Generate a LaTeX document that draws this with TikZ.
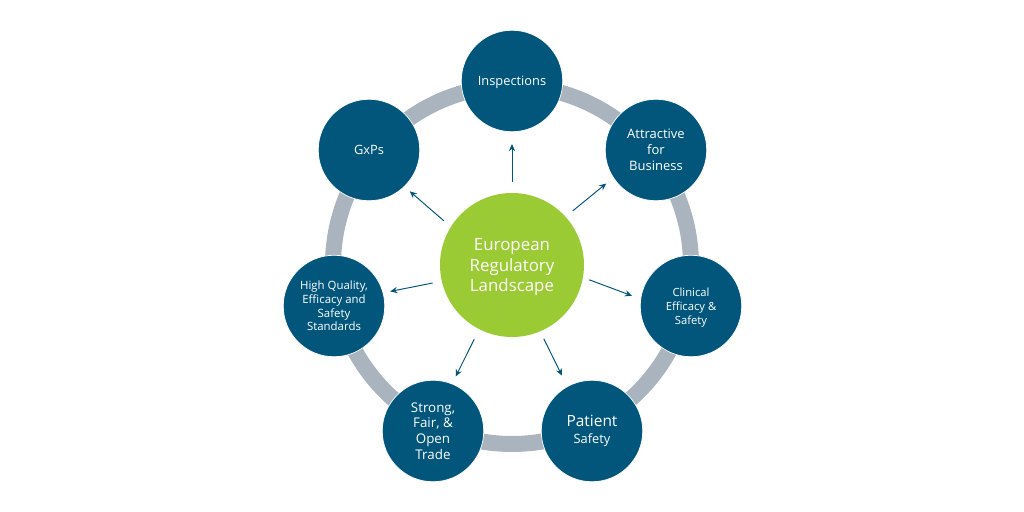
\documentclass[tikz,border=0pt]{standalone}
\usepackage{fontspec}
\setmainfont{Open Sans}
\definecolor{sitedark}{RGB}{2, 86, 124}
\definecolor{hubgreen}{RGB}{155, 203, 52}
\definecolor{ringgrey}{RGB}{170, 180, 191}
\usetikzlibrary{arrows.meta}
\tikzset{
  pillar/.style={circle, fill=sitedark, draw=white, line width=0.4pt, minimum size=2.03cm, inner sep=0pt, align=center, text=white},
  hub/.style={circle, fill=hubgreen, minimum size=2.88cm, inner sep=0pt, align=center, text=white},
  flow/.style={draw=sitedark, line width=0.55pt, -{Stealth[length=4pt, width=3.6pt]}}
}
\begin{document}
\begin{tikzpicture}
  \useasboundingbox (0, 0) rectangle (20.48, 10.24);

  \draw[ringgrey, line width=0.32cm] (10.24, 4.94) circle (3.58);

  \node[hub, font=\fontsize{9.6}{11.7}\selectfont, text depth=0pt] (landscape) at (10.24, 4.94) {European\\Regulatory\\Landscape};

  % Outer circles
  \node[pillar, font=\fontsize{7.3}{9}\selectfont, text depth=0pt] (inspections) at (10.24, 8.62) {Inspections};
  \node[pillar, font=\fontsize{7.4}{9.1}\selectfont] (business) at (13.12, 7.24) {Attractive\\for\\Business};
  \node[pillar, font=\fontsize{6.4}{8}\selectfont, text depth=0pt] (clinical) at (13.82, 4.12) {Clinical\\Efficacy \&\\Safety};
  \node[pillar, font=\fontsize{7.3}{10}\selectfont] (patient) at (11.84, 1.62) {{\fontsize{8.8}{10}\selectfont Patient}\\Safety};
  \node[pillar, font=\fontsize{7.6}{8.9}\selectfont] (trade) at (8.66, 1.62) {Strong,\\Fair, \&\\Open\\Trade};
  \node[pillar, font=\fontsize{6.5}{7.8}\selectfont] (standards) at (6.68, 4.12) {High Quality,\\Efficacy and\\Safety\\Standards};
  \node[pillar, font=\fontsize{7.3}{9}\selectfont, text depth=0pt] (gxps) at (7.38, 7.24) {GxPs};

  % Arrows out of the centre
  \draw[flow, shorten <=0.22cm, shorten >=0.24cm] (landscape.90) -- (inspections.-90);
  \draw[flow, shorten <=0.18cm, shorten >=0.18cm] (landscape.42.4) -- (business.213);
  \draw[flow, shorten <=0.13cm, shorten >=0.18cm] (landscape.-10) -- (clinical.172);
  \draw[flow, shorten <=0.16cm, shorten >=0.24cm] (landscape.-67.7) -- (patient.119.6);
  \draw[flow, shorten <=0.22cm, shorten >=0.16cm] (landscape.243.5) -- (trade.68.7);
  \draw[flow, shorten <=0.18cm, shorten >=0.14cm] (landscape.193) -- (standards.15);
  \draw[flow, shorten <=0.18cm, shorten >=0.14cm] (landscape.148.5) -- (gxps.-46);
\end{tikzpicture}
\end{document}
